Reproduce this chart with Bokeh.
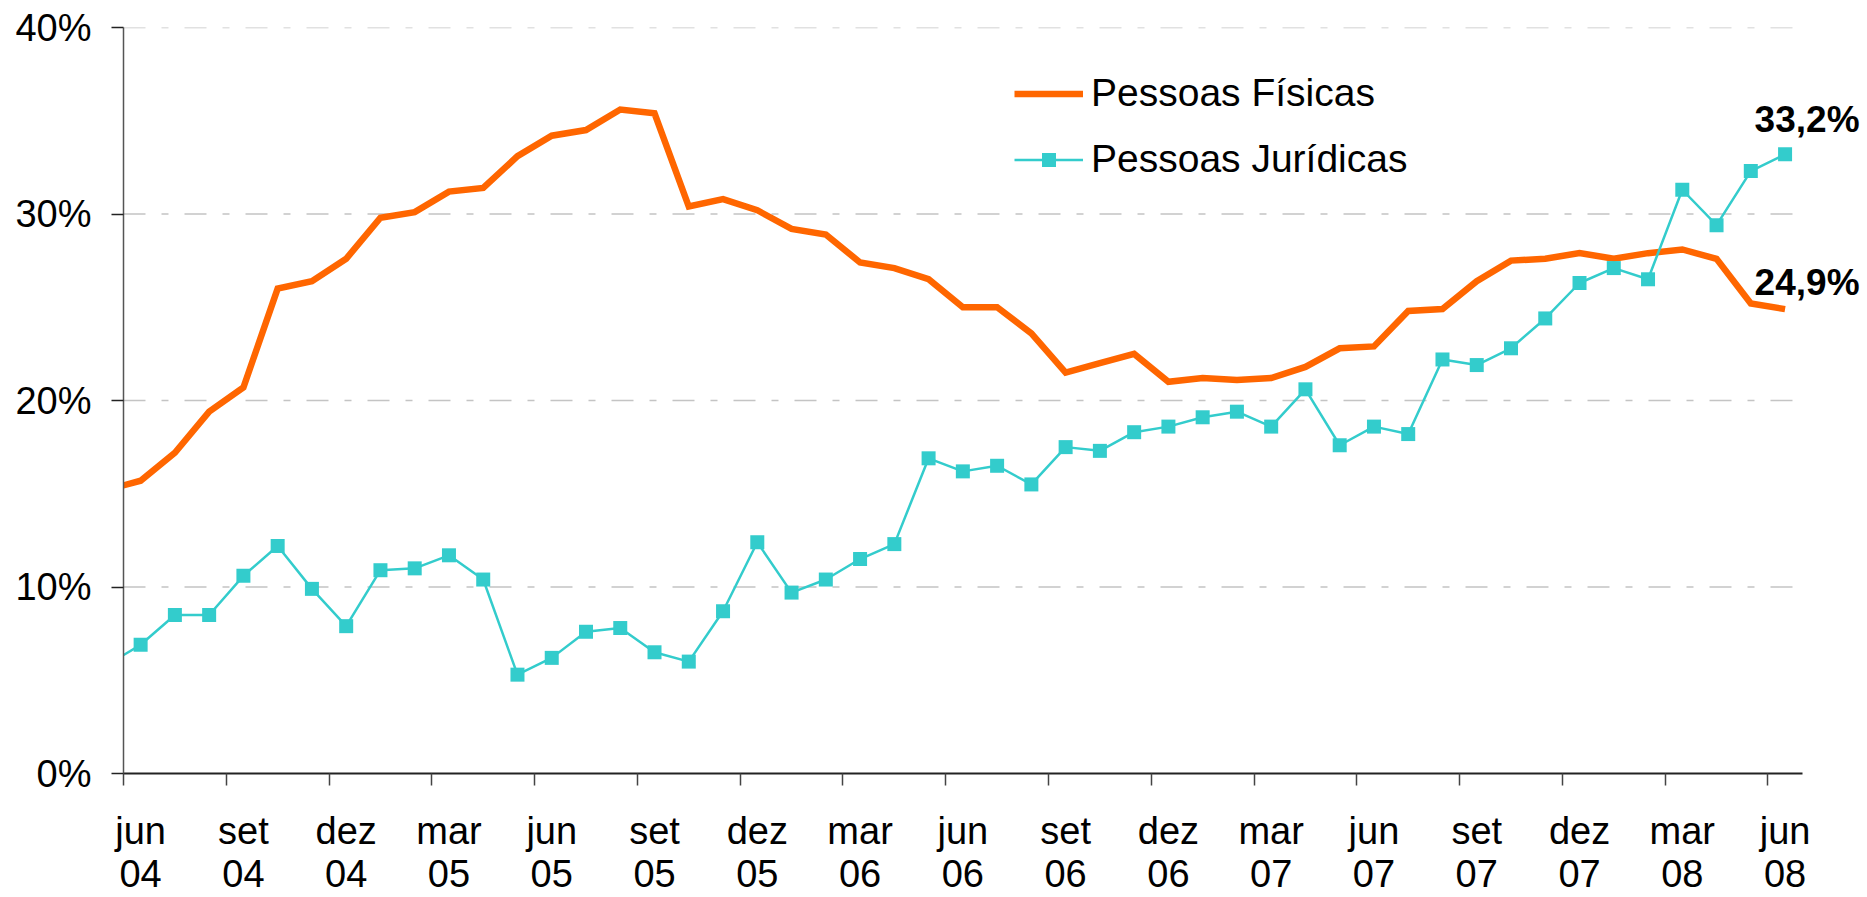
from bokeh.plotting import figure
from bokeh.models import (FixedTicker, LinearAxis, Range1d, Legend, LegendItem, Label)
from bokeh.embed import file_html
from bokeh.resources import INLINE

# ---------------- data ----------------
months = ["mai 04", "jun 04", "jul 04", "ago 04", "set 04", "out 04", "nov 04", "dez 04",
          "jan 05", "fev 05", "mar 05", "abr 05", "mai 05", "jun 05", "jul 05", "ago 05",
          "set 05", "out 05", "nov 05", "dez 05", "jan 06", "fev 06", "mar 06", "abr 06",
          "mai 06", "jun 06", "jul 06", "ago 06", "set 06", "out 06", "nov 06", "dez 06",
          "jan 07", "fev 07", "mar 07", "abr 07", "mai 07", "jun 07", "jul 07", "ago 07",
          "set 07", "out 07", "nov 07", "dez 07", "jan 08", "fev 08", "mar 08", "abr 08",
          "mai 08", "jun 08"]

pessoas_fisicas = [15.2, 15.7, 17.2, 19.4, 20.7, 26.0, 26.4, 27.6, 29.8, 30.1,
                   31.2, 31.4, 33.1, 34.2, 34.5, 35.6, 35.4, 30.4, 30.8, 30.2,
                   29.2, 28.9, 27.4, 27.1, 26.5, 25.0, 25.0, 23.6, 21.5, 22.0,
                   22.5, 21.0, 21.2, 21.1, 21.2, 21.8, 22.8, 22.9, 24.8, 24.9,
                   26.4, 27.5, 27.6, 27.9, 27.6, 27.9, 28.1, 27.6, 25.2, 24.9]

pessoas_juridicas = [5.8, 6.9, 8.5, 8.5, 10.6, 12.2, 9.9, 7.9, 10.9, 11.0,
                     11.7, 10.4, 5.3, 6.2, 7.6, 7.8, 6.5, 6.0, 8.7, 12.4,
                     9.7, 10.4, 11.5, 12.3, 16.9, 16.2, 16.5, 15.5, 17.5, 17.3,
                     18.3, 18.6, 19.1, 19.4, 18.6, 20.6, 17.6, 18.6, 18.2, 22.2,
                     21.9, 22.8, 24.4, 26.3, 27.1, 26.5, 31.3, 29.4, 32.3, 33.2]

y_ticks = [0, 10, 20, 30, 40]
y_tick_labels = ["0%", "10%", "20%", "30%", "40%"]

# month index: jun 04 = 0
x = list(range(-1, len(months) - 1))
label_idx = [i for i in x if i >= 0 and i % 3 == 0]
month_labels = {i: months[i + 1].split()[0] for i in label_idx}
year_labels = {i: months[i + 1].split()[1] for i in label_idx}
boundaries = [i - 0.5 for i in label_idx]
x_lo, x_hi = -0.5, x[-1] + 0.5

FONT = "Liberation Sans"
ORANGE = "#FF6600"
TEAL = "#33CCCC"

W, H = 1867, 897
LEFT, TOP, BOTTOM = 123, 27, 124
axis_right_px = 1801.7
px_per_month = (axis_right_px - LEFT) / (x_hi - x_lo)
x_view_end = x_lo + (W - LEFT) / px_per_month   # frame runs to the canvas edge

p = figure(width=W, height=H, output_backend="svg", toolbar_location=None,
           x_range=Range1d(x_lo, x_view_end), y_range=Range1d(0, 40),
           min_border_left=LEFT, min_border_right=0, min_border_top=TOP,
           min_border_bottom=BOTTOM, x_axis_location=None, y_axis_location=None)
p.outline_line_color = None
p.background_fill_color = "white"
p.border_fill_color = "white"

# y axis
yaxis = LinearAxis(ticker=FixedTicker(ticks=y_ticks),
                   major_label_overrides={t: l for t, l in zip(y_ticks, y_tick_labels)})
yaxis.major_label_text_font = FONT
yaxis.major_label_text_font_size = "38px"
yaxis.major_label_text_color = "black"
yaxis.major_label_standoff = 20
yaxis.major_tick_out = 12
yaxis.major_tick_in = 0
yaxis.minor_tick_line_color = None
yaxis.axis_line_color = "#555555"
yaxis.axis_line_width = 1.5
yaxis.major_tick_line_color = "#222222"
yaxis.major_tick_line_width = 1.5
p.add_layout(yaxis, "left")

# x axis (months)
xaxis = LinearAxis(ticker=FixedTicker(ticks=label_idx, minor_ticks=boundaries),
                   major_label_overrides=month_labels, bounds=(x_lo, x_hi))
xaxis.major_label_text_font = FONT
xaxis.major_label_text_font_size = "38px"
xaxis.major_label_text_color = "black"
xaxis.major_tick_line_color = None
xaxis.major_tick_out = 0
xaxis.major_tick_in = 0
xaxis.minor_tick_out = 12
xaxis.minor_tick_in = 0
xaxis.minor_tick_line_color = "#444444"
xaxis.minor_tick_line_width = 1.5
xaxis.axis_line_color = "#222222"
xaxis.axis_line_width = 2
xaxis.major_label_standoff = 24
p.add_layout(xaxis, "below")

# x axis (years)
yearaxis = LinearAxis(ticker=FixedTicker(ticks=label_idx), major_label_overrides=year_labels,
                      bounds=(x_lo, x_hi))
yearaxis.major_label_text_font = FONT
yearaxis.major_label_text_font_size = "38px"
yearaxis.major_label_text_color = "black"
yearaxis.axis_line_color = None
yearaxis.major_tick_line_color = None
yearaxis.minor_tick_line_color = None
yearaxis.major_tick_out = 0
yearaxis.major_tick_in = 0
yearaxis.minor_tick_out = 0
yearaxis.major_label_standoff = 5
p.add_layout(yearaxis, "below")

# grid (drawn only over the axis extent)
p.xgrid.visible = False
p.ygrid.visible = False
gy = y_ticks[1:]
p.segment(x0=[x_lo] * len(gy), x1=[x_hi] * len(gy), y0=gy, y1=gy,
          line_color="#C4C4C4", line_width=1.5, line_dash="22 16 7 16", level="underlay")

# series
r_pf = p.line(x, pessoas_fisicas, line_color=ORANGE, line_width=6.5, line_join="miter")
r_pj = p.line(x, pessoas_juridicas, line_color=TEAL, line_width=2.5)
r_pjm = p.scatter(x[1:], pessoas_juridicas[1:], marker="square", size=14,
                  fill_color=TEAL, line_color=None)

legend = Legend(items=[LegendItem(label="Pessoas Físicas", renderers=[r_pf]),
                       LegendItem(label="Pessoas Jurídicas", renderers=[r_pj, r_pjm])],
                location=(891, 592), orientation="vertical")
legend.label_text_font = FONT
legend.label_text_font_size = "39px"
legend.label_text_color = "black"
legend.glyph_width = 69
legend.glyph_height = 35
legend.label_standoff = 8
legend.spacing = 22
legend.padding = 0
legend.margin = 0
legend.border_line_color = None
legend.background_fill_alpha = 0
p.add_layout(legend, "center")

# end-value annotations
for vals, dy in ((pessoas_juridicas, 35), (pessoas_fisicas, 27)):
    txt = f"{vals[-1]:.1f}%".replace(".", ",")
    p.add_layout(Label(x=x[-1], y=vals[-1], text=txt, x_offset=22, y_offset=dy,
                       text_align="center", text_baseline="alphabetic",
                       text_font=FONT, text_font_size="37px", text_font_style="bold",
                       text_color="black"))

open("out.html", "w").write(file_html(p, INLINE))
